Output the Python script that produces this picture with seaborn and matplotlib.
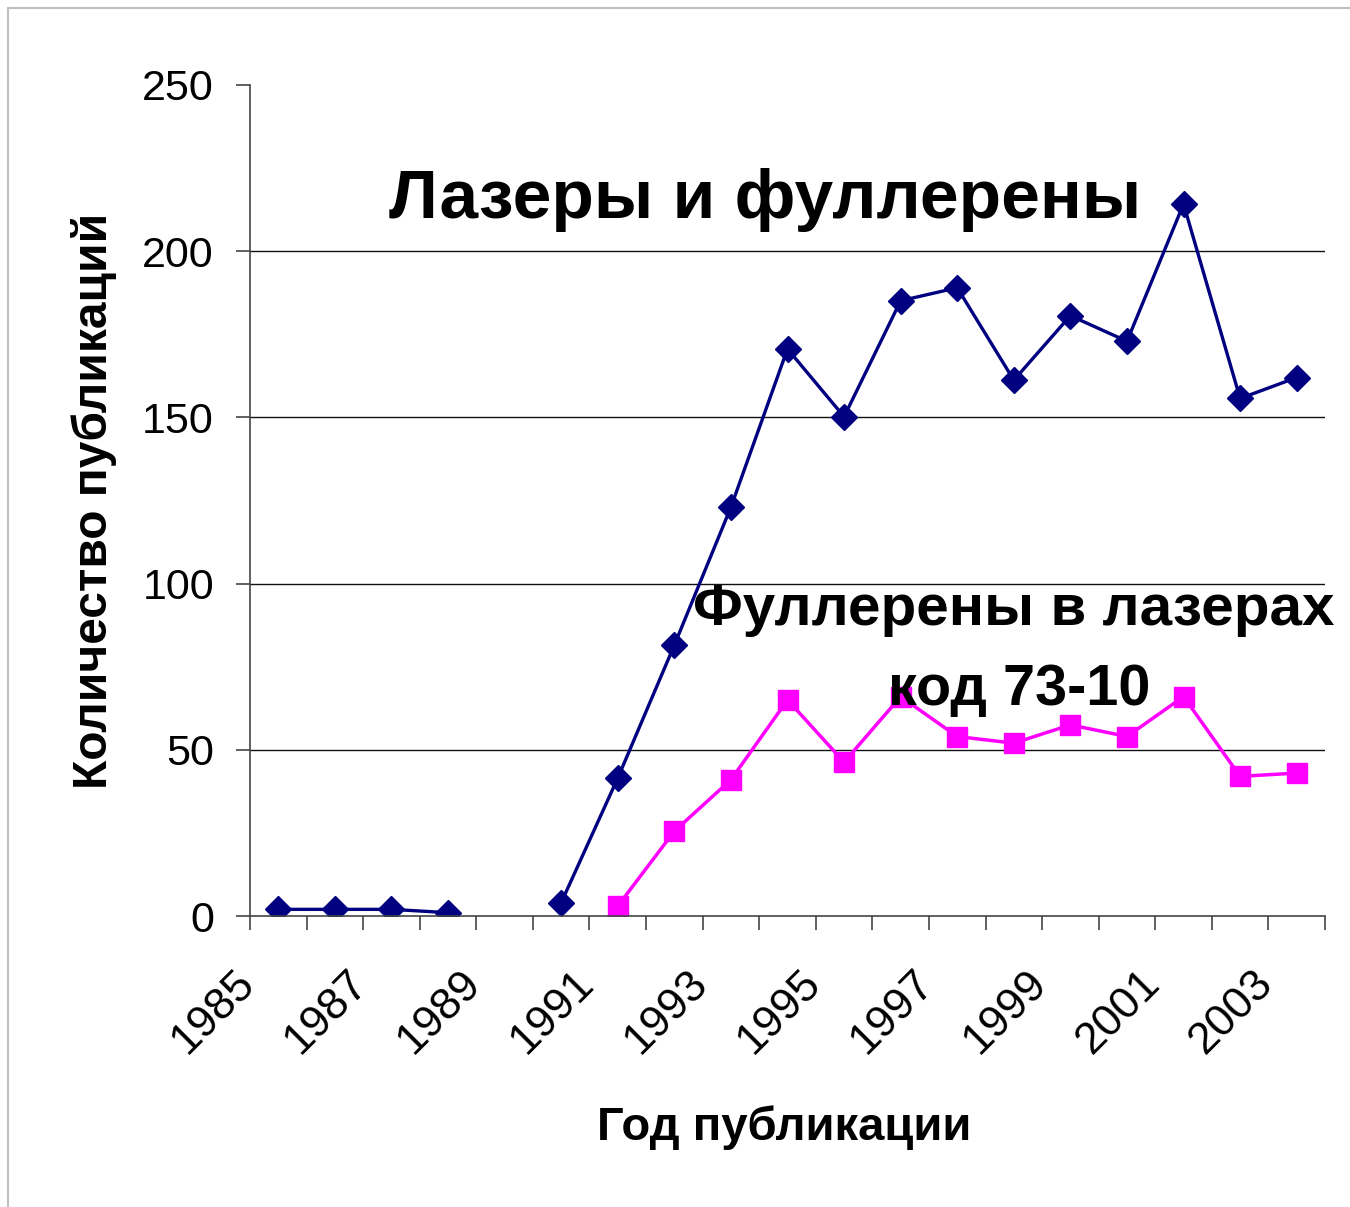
import numpy as np
import pandas as pd
import matplotlib
matplotlib.use("Agg")
import matplotlib.pyplot as plt
import matplotlib.transforms as mtransforms
import seaborn as sns

# данные
years = list(range(1985, 2004))
lasers_fullerenes = [2, 2, 2, 1, np.nan, 4, 41.5, 81.5, 123, 170.6, 150.2, 185.1,
                     189.0, 161.2, 180.6, 172.9, 214.2, 155.7, 162.0]
fullerenes_in_lasers = [np.nan, np.nan, np.nan, np.nan, np.nan, np.nan, 3, 25.5, 41,
                        65, 46.3, 66, 54, 52, 57.5, 54, 66, 42, 43]
y_ticks = [0, 50, 100, 150, 200, 250]
label_years = years[::2]

title_main = "Лазеры и фуллерены"
title_sub1 = "Фуллерены в лазерах"
title_sub2 = "код 73-10"
x_label = "Год публикации"
y_label = "Количество публикаций"


def segments(values):
    # номер непрерывного участка, чтобы линия рвалась на пропусках
    seg, out, prev_nan = 0, [], True
    for v in values:
        if np.isnan(v):
            prev_nan = True
            out.append(np.nan)
            continue
        if prev_nan:
            seg += 1
        prev_nan = False
        out.append(seg)
    return out


df_a = pd.DataFrame({"year": years, "count": lasers_fullerenes, "seg": segments(lasers_fullerenes)}).dropna()
df_b = pd.DataFrame({"year": years, "count": fullerenes_in_lasers, "seg": segments(fullerenes_in_lasers)}).dropna()

sns.set_style("white")
plt.rcParams["font.family"] = ["Liberation Sans", "DejaVu Sans"]
plt.rcParams["text.color"] = "black"
plt.rcParams["axes.labelcolor"] = "black"
plt.rcParams["xtick.color"] = "black"
plt.rcParams["ytick.color"] = "black"

fig = plt.figure(figsize=(13.5, 12.07), dpi=100)
ax = fig.add_axes([250 / 1350, 1 - 916 / 1207, 1075 / 1350, 831 / 1207])

sns.lineplot(data=df_a, x="year", y="count", units="seg", estimator=None, ax=ax,
             color="#000080", linewidth=2.4, marker="D", markersize=13,
             markeredgecolor="#000080", markeredgewidth=1)
sns.lineplot(data=df_b, x="year", y="count", units="seg", estimator=None, ax=ax,
             color="#ff00ff", linewidth=2.5, marker="s", markersize=14,
             markeredgecolor="#ff00ff", markeredgewidth=1)

ax.set_xlim(years[0] - 0.5, years[-1] + 0.5)
ax.set_ylim(0, 250)

# делительные штрихи между категориями, подписи через год
ax.set_xticks(np.arange(years[0] - 0.5, years[-1] + 1.0, 1.0))
ax.set_xticklabels([])
ax.set_xticks(label_years, minor=True)
ax.set_xticklabels([str(y) for y in label_years], minor=True, rotation=45,
                   ha="right", va="center", rotation_mode="anchor", fontsize=32)
ax.tick_params(axis="x", which="major", direction="out", length=10, width=1.2,
               color="#444444", bottom=True)
ax.tick_params(axis="x", which="minor", length=0, pad=44)
offset = mtransforms.ScaledTranslation(-0.30, 0, fig.dpi_scale_trans)
for lbl in ax.get_xticklabels(minor=True):
    lbl.set_transform(lbl.get_transform() + offset)

ax.set_yticks(y_ticks)
ax.set_yticklabels([str(v) for v in y_ticks], fontsize=31)
ax.tick_params(axis="y", direction="out", length=10, width=1.2, color="#444444",
               left=True, pad=16)

ax.grid(axis="y", color="#111111", linewidth=1.0)
ax.grid(axis="x", visible=False)
ax.yaxis.get_gridlines()[-1].set_visible(False)
ax.yaxis.get_gridlines()[0].set_visible(False)

sns.despine(ax=ax)
for side in ["left", "bottom"]:
    ax.spines[side].set_color("#444444")
    ax.spines[side].set_linewidth(1.2)

ax.set_xlabel(x_label, fontsize=34, fontweight="bold")
ax.set_ylabel(y_label, fontsize=34.5, fontweight="bold")
ax.xaxis.set_label_coords(0.497, -0.228)
ax.yaxis.set_label_coords(-0.124, 0.5)

ax.text(1993.6, 210, title_main, fontsize=50, fontweight="bold", ha="center", va="baseline")
ax.text(1998.0, 87.5, title_sub1, fontsize=42, fontweight="bold", ha="center", va="baseline")
ax.text(1998.1, 63.5, title_sub2, fontsize=41.5, fontweight="bold", ha="center", va="baseline")

# светло-серая рамка области диаграммы
fig.add_artist(plt.Rectangle((8 / 1350, -0.1), 1.2, 1 - 8 / 1207 + 0.1,
                             transform=fig.transFigure, fill=False,
                             edgecolor="#c0c0c0", linewidth=1.5))

fig.savefig("out.png", dpi=100)
